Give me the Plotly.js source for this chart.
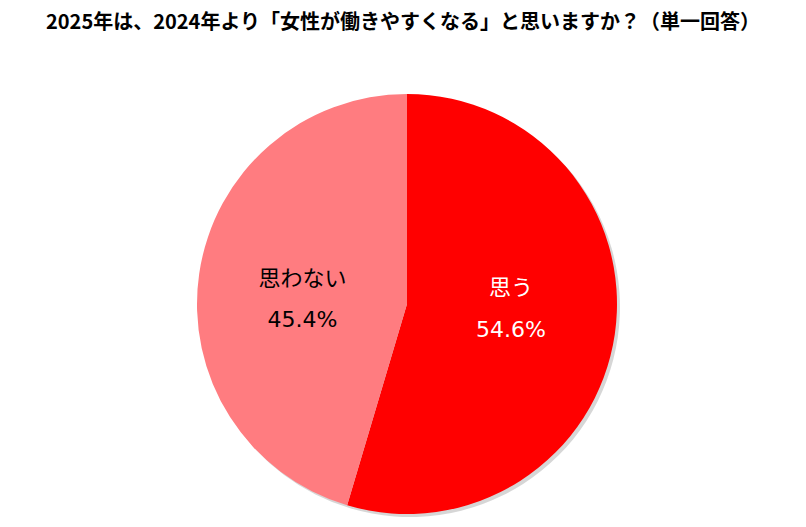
<!DOCTYPE html>
<html>
<head>
<meta charset="utf-8">
<script src="https://cdn.plot.ly/plotly-3.0.1.min.js"></script>
<style>html,body{margin:0;padding:0;background:#fff;}#chart{width:806px;height:527px;}</style>
</head>
<body>
<div id="chart"></div>
<script>
const titleText = "2025年は、2024年より「女性が働きやすくなる」と思いますか？（単一回答）";
const labels = ["思う", "思わない"];
const values = [54.6, 45.4];
const colors = ["#FF0000", "#FF7C80"];
const textColors = ["#FFFFFF", "#000000"];

const W = 806, H = 527;
const cx = 407, cy = 304, r = 210;
function dom(ox, oy) {
  return {
    x: [(cx - r + ox) / W, (cx + r + ox) / W],
    y: [(H - (cy + r) - oy) / H, (H - (cy - r) - oy) / H]
  };
}

const NB = "\u00a0";
const sp = s => "<span style='font-size:22px'>" + s + "</span>";
// per-slice line layout (blank lines nudge the text block like the original)
const templates = [
  sp("%{label}") + "<br>" + sp(NB) + "<br>" + sp("%{value:.1f}%") + "<br>" + sp(NB),
  sp(NB) + "<br>" + sp("%{label}") + "<br>" + sp(NB) + "<br>" + sp("%{value:.1f}%")
];

const shadow = {
  type: "pie",
  values: values,
  labels: labels,
  sort: false,
  direction: "clockwise",
  rotation: 0,
  domain: dom(3, 3),
  marker: {colors: ["rgba(0,0,0,0.16)", "rgba(0,0,0,0.16)"], line: {width: 0}},
  textinfo: "none",
  hoverinfo: "skip",
  showlegend: false
};

const main = {
  type: "pie",
  values: values,
  labels: labels,
  sort: false,
  direction: "clockwise",
  rotation: 0,
  domain: dom(0, 0),
  marker: {colors: colors, line: {width: 0}},
  texttemplate: templates,
  textposition: "inside",
  insidetextorientation: "horizontal",
  insidetextfont: {family: "DejaVu Sans, Noto Sans CJK JP, sans-serif", size: 16, color: textColors},
  showlegend: false
};

const layout = {
  width: W, height: H,
  margin: {l: 0, r: 0, t: 0, b: 0},
  paper_bgcolor: "#FFFFFF",
  title: {
    text: "<b>" + titleText + "</b>",
    font: {family: "Noto Sans CJK JP, sans-serif", size: 20, color: "#000000"},
    x: 0.5, xanchor: "center", y: 0.958, yanchor: "middle"
  },
  showlegend: false
};

Plotly.newPlot("chart", [shadow, main], layout, {displayModeBar: false, staticPlot: true});
</script>
</body>
</html>
